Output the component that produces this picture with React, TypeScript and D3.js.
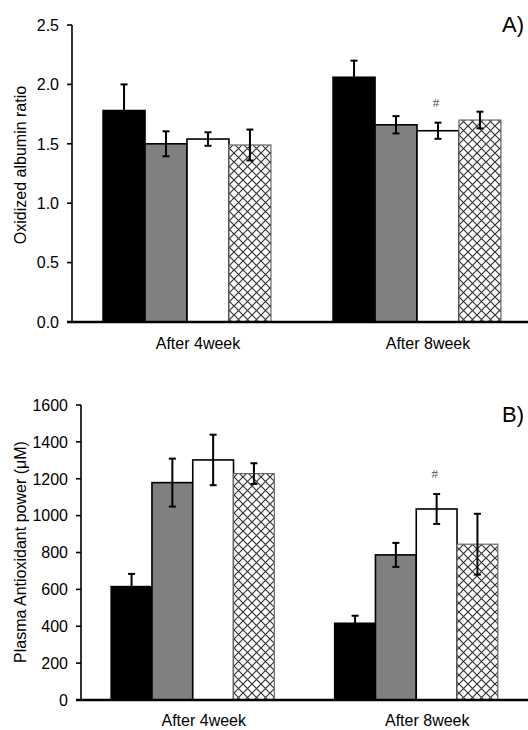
import React from "react";
import * as d3 from "d3";

const categories = ["After 4week", "After 8week"];
const series = ["s1", "s2", "s3", "s4"];

const albuminValues = [
  [1.78, 1.5, 1.54, 1.49],
  [2.06, 1.66, 1.61, 1.7],
];
const albuminErrors = [
  [0.22, 0.105, 0.057, 0.13],
  [0.14, 0.073, 0.068, 0.07],
];
const albuminTicks = [0, 0.5, 1.0, 1.5, 2.0, 2.5];

const powerValues = [
  [615, 1179, 1302, 1228],
  [416, 787, 1036, 845],
];
const powerErrors = [
  [69, 130, 137, 56],
  [41, 65, 81, 165],
];
const powerTicks = [0, 200, 400, 600, 800, 1000, 1200, 1400, 1600];

const FONT = "Arial, 'Liberation Sans', sans-serif";
const FS = 16;

type PanelProps = {
  values: number[][];
  errors: number[][];
  ticks: number[];
  yMax: number;
  fmt: (v: number) => string;
  x0: number;
  x1: number;
  yTop: number;
  yBottom: number;
  title: string;
  titleX: number;
  titleY: number;
  panelLabel: string;
  panelLabelY: number;
  catLabelY: number;
  hashIndex: [number, number];
};

const fills = ["#000000", "#808080", "#ffffff", "url(#hatch)"];

function Panel(p: PanelProps) {
  const y = d3.scaleLinear().domain([0, p.yMax]).range([p.yBottom, p.yTop]);
  const xOuter = d3.scaleBand<string>().domain(categories).range([p.x0, p.x1]).padding(0);
  const xInner = d3
    .scaleBand<string>()
    .domain(series)
    .range([0, xOuter.bandwidth()])
    .paddingInner(0)
    .paddingOuter(0.74);
  const bw = xInner.bandwidth();
  return (
    <g>
      {categories.map((c, ci) =>
        series.map((s, si) => {
          const v = p.values[ci][si];
          const e = p.errors[ci][si];
          const bx = (xOuter(c) as number) + (xInner(s) as number);
          const cx = bx + bw / 2;
          const hatched = si === 3;
          return (
            <g key={c + s}>
              <rect
                x={bx}
                y={y(v)}
                width={bw}
                height={y(0) - y(v)}
                fill={fills[si]}
                stroke={hatched ? "#666" : "#000"}
                strokeWidth={hatched ? 1.2 : 1.6}
              />
              <line x1={cx} x2={cx} y1={y(v - e)} y2={y(v + e)} stroke="#000" strokeWidth={2} />
              <line x1={cx - 3.5} x2={cx + 3.5} y1={y(v + e)} y2={y(v + e)} stroke="#000" strokeWidth={2} />
              <line x1={cx - 3.5} x2={cx + 3.5} y1={y(v - e)} y2={y(v - e)} stroke="#000" strokeWidth={2} />
              {ci === p.hashIndex[0] && si === p.hashIndex[1] ? (
                <text
                  x={cx - 2}
                  y={y(v + e) - 16}
                  textAnchor="middle"
                  fontFamily="'Liberation Serif', 'DejaVu Serif', serif"
                  fontSize={13}
                  fill="#555"
                >
                  #
                </text>
              ) : null}
            </g>
          );
        })
      )}
      {/* y axis */}
      <line x1={p.x0} x2={p.x0} y1={y(p.yMax)} y2={y(0)} stroke="#000" strokeWidth={1.6} />
      {p.ticks.map((t) => (
        <g key={t}>
          <line x1={p.x0 - 5} x2={p.x0} y1={y(t)} y2={y(t)} stroke="#000" strokeWidth={1.6} />
          <text
            x={p.x0 - 13}
            y={y(t)}
            dy="0.36em"
            textAnchor="end"
            fontFamily={FONT}
            fontSize={FS}
            fill="#000"
          >
            {p.fmt(t)}
          </text>
        </g>
      ))}
      {/* x axis */}
      <line x1={p.x0 - 5} x2={p.x1} y1={y(0)} y2={y(0)} stroke="#000" strokeWidth={2.5} />
      {categories.map((c) => (
        <text
          key={c}
          x={(xOuter(c) as number) + xOuter.bandwidth() / 2 + 11}
          y={p.catLabelY}
          textAnchor="middle"
          fontFamily={FONT}
          fontSize={FS}
          fill="#000"
        >
          {c}
        </text>
      ))}
      <text
        transform={`translate(${p.titleX},${p.titleY}) rotate(-90)`}
        textAnchor="middle"
        dy="0.36em"
        fontFamily={FONT}
        fontSize={FS}
        fill="#000"
      >
        {p.title}
      </text>
      <text x={502} y={p.panelLabelY} fontFamily={FONT} fontSize={22} fill="#000">
        {p.panelLabel}
      </text>
    </g>
  );
}

export default function App() {
  return (
    <svg
      width={528}
      height={730}
      style={{ position: "absolute", left: 0, top: 0, background: "#fff" }}
    >
      <defs>
        <pattern id="hatch" patternUnits="userSpaceOnUse" width={9} height={9}>
          <rect width={9} height={9} fill="#fff" />
          <path d="M0,0 L9,9 M9,0 L0,9" stroke="#333" strokeWidth={1.2} />
        </pattern>
      </defs>
      <rect width={528} height={730} fill="#fff" />
      <Panel
        values={albuminValues}
        errors={albuminErrors}
        ticks={albuminTicks}
        yMax={2.5}
        fmt={d3.format(".1f")}
        x0={72}
        x1={532}
        yTop={25}
        yBottom={322}
        title="Oxidized albumin ratio"
        titleX={20}
        titleY={165}
        panelLabel="A)"
        panelLabelY={32}
        catLabelY={349}
        hashIndex={[1, 2]}
      />
      <Panel
        values={powerValues}
        errors={powerErrors}
        ticks={powerTicks}
        yMax={1600}
        fmt={d3.format("d")}
        x0={81}
        x1={528}
        yTop={405}
        yBottom={700}
        title="Plasma Antioxidant power (μM)"
        titleX={20}
        titleY={552}
        panelLabel="B)"
        panelLabelY={422}
        catLabelY={726}
        hashIndex={[1, 2]}
      />
    </svg>
  );
}
